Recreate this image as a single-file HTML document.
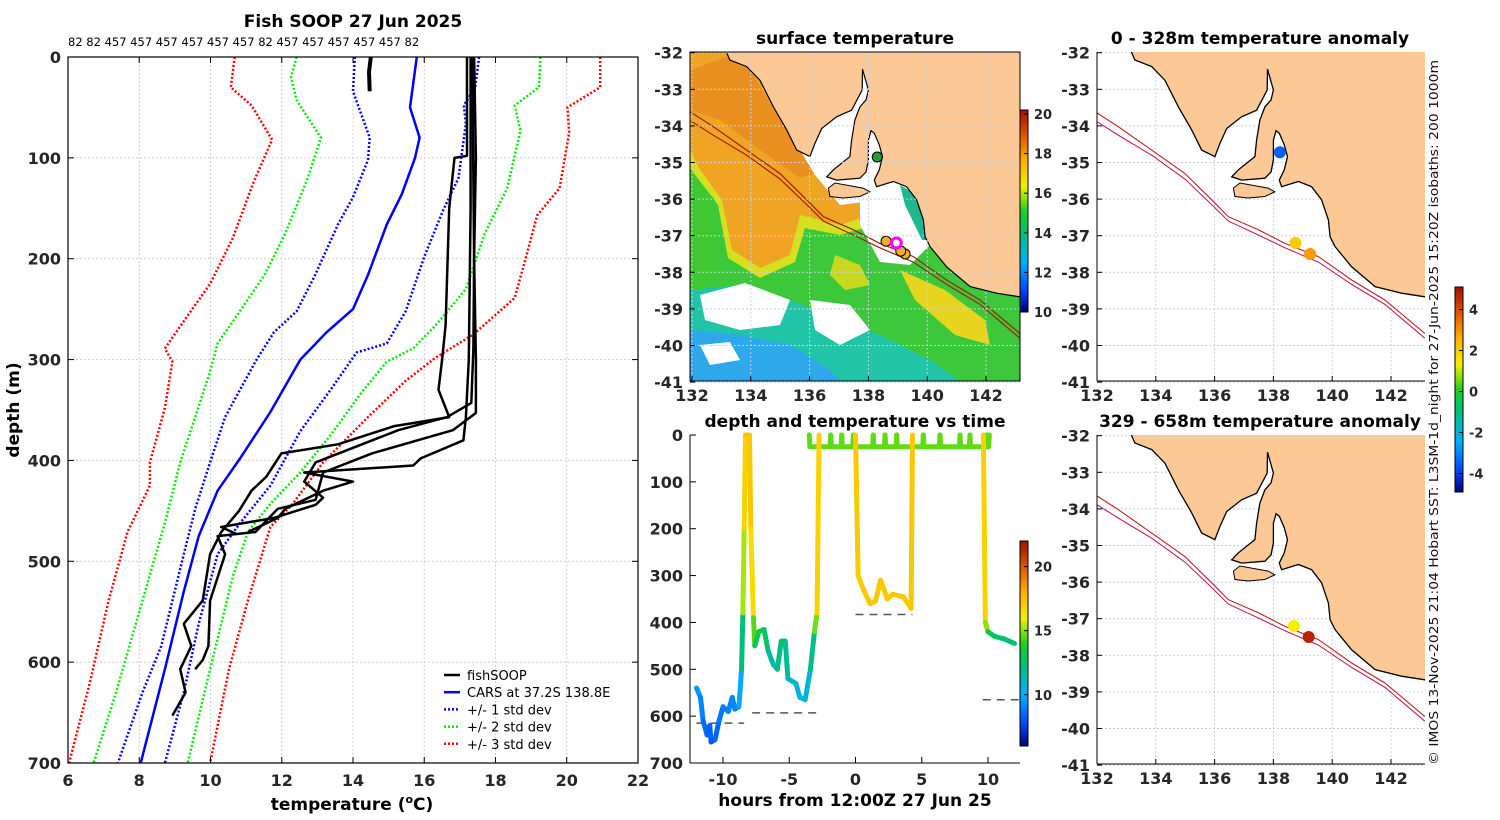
<!DOCTYPE html>
<html><head><meta charset="utf-8"><title>Fish SOOP 27 Jun 2025</title>
<style>
html,body{margin:0;padding:0;background:#fff;}
svg{display:block;font-family:"DejaVu Sans","Liberation Sans",sans-serif;}
.tk{font-weight:bold;font-size:16px;fill:#262626;}
.ttl{font-weight:bold;font-size:17px;fill:#000;}
</style></head>
<body>
<svg id="fig" width="1500" height="820" viewBox="0 0 1500 820" xmlns="http://www.w3.org/2000/svg">
<defs>
<clipPath id="cm1"><rect x="690" y="52" width="330" height="329"/></clipPath>
<clipPath id="cm2"><rect x="1097" y="52" width="328" height="329"/></clipPath>
<clipPath id="cm3"><rect x="1097" y="435" width="328" height="328"/></clipPath>
<linearGradient id="jet" x1="0" y1="1" x2="0" y2="0">
<stop offset="0" stop-color="#000080"/><stop offset="0.12" stop-color="#0050ff"/><stop offset="0.25" stop-color="#00b0ff"/><stop offset="0.4" stop-color="#00c070"/><stop offset="0.5" stop-color="#20d020"/><stop offset="0.62" stop-color="#f0f000"/><stop offset="0.75" stop-color="#ffb000"/><stop offset="0.88" stop-color="#e05000"/><stop offset="1" stop-color="#a01000"/>
</linearGradient>
</defs>
<g id="g-main"></g>
<g id="g-time"></g>
<g id="g-map1"></g>
<g id="g-map2"></g>
<g id="g-map3"></g>
<text transform="translate(1438,765) rotate(-90)" font-size="12.5" fill="#111" textLength="705" lengthAdjust="spacingAndGlyphs">© IMOS 13-Nov-2025 21:04 Hobart SST: L3SM-1d_night for 27-Jun-2025 15:20Z isobaths: 200  1000m</text>
</svg>
<script>
// ---------- data: profile chart ----------
const meanD = [0,50,80,100,136,166,216,250,273,300,352,398,430,475,530,607,700];
const meanT = [15.79,15.6,15.87,15.74,15.37,14.95,14.42,14.0,13.26,12.52,11.68,10.83,10.2,9.67,9.25,8.72,8.04];
const sd1LoD = [0,34,80,102,139,166,216,252,273,302,357,402,448,493,584,630,700];
const sd1LoT = [14.05,14.0,14.47,14.42,14.0,13.58,12.94,12.42,11.78,11.26,10.41,9.99,9.57,9.25,8.62,8.09,7.4];
const sd1HiD = [0,30,48,66,120,152,198,252,284,293,330,371,425,462,493,562,630,700];
const sd1HiT = [17.54,17.43,17.11,17.17,16.96,16.53,16.0,15.48,14.95,14.1,13.37,12.52,11.68,10.83,10.2,9.67,9.25,8.72];
const sd2LoD = [0,20,43,80,120,175,216,257,284,312,357,402,462,539,630,700];
const sd2LoT = [12.42,12.26,12.42,13.1,12.73,12.1,11.52,10.73,10.2,9.99,9.57,9.15,8.72,8.09,7.35,6.72];
const sd2HiD = [0,30,48,73,130,175,230,266,289,302,334,375,412,443,471,516,607,700];
const sd2HiT = [19.26,19.22,18.54,18.7,18.33,17.7,17.17,16.32,15.69,14.95,14.21,13.37,12.52,11.68,11.05,10.62,9.99,9.36];
const sd3LoD = [0,30,48,82,125,180,225,262,289,302,348,402,425,471,539,621,700];
const sd3LoT = [10.68,10.57,11.15,11.73,11.2,10.62,9.99,9.25,8.72,8.93,8.72,8.3,8.3,7.67,7.14,6.61,6.03];
const sd3HiD = [0,30,50,75,130,157,198,239,275,298,321,357,402,443,466,539,607,700];
const sd3HiT = [20.94,20.94,20.02,20.07,19.8,19.17,18.86,18.54,17.38,16.32,15.48,14.42,13.16,12.31,11.68,11.05,10.52,9.99];
const profA_d = [0,98,100,150,266,300,330,357,366,384,393,416,430,450,471,493,539,562,584,607,630,653];
const profA_t = [17.2,17.2,16.85,16.7,16.6,16.5,16.4,16.7,15.16,13.58,11.99,11.57,11.15,10.8,10.3,9.99,9.78,9.25,9.46,9.15,9.3,8.93];
const profB_d = [0,100,200,300,353,370,393,412,439,448,471,475,493,539,584,598,607];
const profB_t = [17.4,17.45,17.4,17.45,17.45,16.8,14.53,13.16,12.95,11.89,11.26,10.2,10.41,9.99,9.94,9.78,9.57];
const profC_d = [0,150,300,357,380,398,405,412,421,430,448,457,471];
const profC_t = [17.3,17.3,17.25,17.17,17.1,15.9,15.69,12.63,14.0,13.16,12.1,11.89,11.05];
const profD_d = [0,200,289,343,357,370,402,421,437,444,457,466,473];
const profD_t = [17.35,17.4,17.38,17.32,16.64,15.27,12.95,12.63,13.16,12.95,11.78,10.3,10.73];
const profE_d = [0,15,34];
const profE_t = [14.5,14.45,14.47];
const tempTicks = [6,8,10,12,14,16,18,20,22];
const depthTicks = [0,100,200,300,400,500,600,700];
const countLabels = ["82","82","457","457","457","457","457","457","82","457","457","457","457","457","82"];
// ---------- data: depth-time chart ----------
const diveHrs = [-12.0,-11.7,-11.5,-11.2,-11.0,-10.9,-10.6,-10.3,-10.0,-9.6,-9.3,-9.1,-8.8,-8.6,-8.5,-8.4,-8.3,-8.0,-7.9,-7.7,-7.6,-7.3,-6.9,-6.6,-6.2,-5.9,-5.6,-5.3,-5.1,-4.5,-4.2,-3.8,-3.4,-3.1,-2.9,-2.75];
const diveDep = [540,560,610,640,620,655,650,610,580,590,560,585,580,500,380,200,0,0,200,390,450,420,415,460,490,500,440,440,520,530,560,565,500,420,380,0];
const diveTmp = [9.5,9.3,8.8,8.3,8.6,8.0,8.1,8.6,9.0,8.9,9.2,9.0,9.2,10.5,14,16.5,17.3,17.3,17.2,16.0,13,13.2,13.3,12.0,11.3,11.2,12.8,12.8,10.9,10.8,10.3,10.2,11.1,13,16.5,17.3];
const dive2Hrs = [0,0.2,0.6,1.1,1.5,1.9,2.4,2.8,3.6,4.2,4.3];
const dive2Dep = [0,300,330,360,355,310,350,340,345,370,0];
const dive2Tmp = [17.3,17.0,17.1,17.2,17.2,17.2,17.2,17.2,17.2,17.2,17.3];
const dive3Hrs = [9.65,9.8,10.0,10.5,11.2,12.0];
const dive3Dep = [0,400,420,430,435,445];
const dive3Tmp = [17.3,16.5,13.5,12.8,12.5,12.3];
const towSpikes = [-3.49,-1.87,-1.04,-0.16,1.34,2.23,3.11,5.12,6.38,7.89,8.64,9.9];
const towDepth = 25;
const towTemp = 14.6;
const bottomSeg = [[-12,-8.4,615],[-7.8,-2.8,593],[0,4.3,383],[9.6,12.4,565],[-3.4,9.9,28]];
const hourTicks = [-10,-5,0,5,10];
// ---------- data: maps ----------
const coast = [[133.1,-31],[133.18,-32.0],[133.29,-32.2],[133.86,-32.38],[134.31,-32.75],[134.77,-33.48],[135.22,-34.11],[135.56,-34.66],[136.01,-34.84],[136.18,-34.48],[136.41,-34.07],[136.92,-33.75],[137.43,-33.57],[137.79,-33.02],[137.8,-32.45],[138.0,-33.02],[137.92,-33.29],[137.71,-33.48],[137.54,-33.84],[137.43,-34.39],[137.37,-34.84],[136.81,-35.2],[136.58,-35.39],[136.92,-35.48],[137.71,-35.43],[137.92,-35.26],[138.0,-34.93],[138.0,-34.39],[138.09,-34.13],[138.2,-34.2],[138.37,-34.52],[138.48,-34.84],[138.37,-35.2],[138.2,-35.48],[138.28,-35.66],[138.85,-35.52],[139.3,-35.66],[139.64,-36.02],[139.87,-36.57],[139.93,-37.03],[140.1,-37.3],[140.66,-37.85],[141.46,-38.39],[142.36,-38.57],[143.15,-38.67],[143.6,-38.7],[143.6,-31]];
const kangIsland = [[136.64,-35.7],[136.86,-35.56],[137.82,-35.7],[138.05,-35.8],[137.71,-35.93],[137.14,-35.97],[136.69,-35.93]];
const iso200 = [[131.93,-33.61],[132.72,-34.02],[133.86,-34.66],[134.99,-35.3],[135.9,-36.02],[136.47,-36.48],[137.49,-36.84],[138.39,-37.21],[139.53,-37.57],[140.66,-38.21],[141.8,-38.76],[143.15,-39.67]];
const iso1000 = [[131.93,-33.85],[132.72,-34.25],[133.86,-34.8],[134.99,-35.45],[135.9,-36.15],[136.47,-36.6],[137.49,-36.98],[138.39,-37.33],[139.53,-37.72],[140.66,-38.33],[141.8,-38.88],[143.15,-39.8]];
const lonTicks = [132,134,136,138,140,142];
const latTicks = [-32,-33,-34,-35,-36,-37,-38,-39,-40,-41];
const anomUpperLon = [138.22,138.75,139.25];
const anomUpperLat = [-34.72,-37.2,-37.5];
const anomUpperVal = [-3.6,1.9,2.8];
const anomLowerLon = [138.7,139.2];
const anomLowerLat = [-37.2,-37.5];
const anomLowerVal = [1.2,4.6];
const sstCbarTicks = [10,12,14,16,18,20];
const timeCbarTicks = [10,15,20];
const anomCbarTicks = [4,2,0,-2,-4];

const NS='http://www.w3.org/2000/svg';
function mk(tag, attrs, parent){const e=document.createElementNS(NS,tag);for(const k in attrs)e.setAttribute(k,attrs[k]);if(parent)parent.appendChild(e);return e;}
function txt(s, attrs, parent){const e=mk('text',attrs,parent);e.textContent=s;return e;}
function cmap(f){
  const st=[[0,[0,0,128]],[0.12,[0,80,255]],[0.25,[0,176,255]],[0.4,[0,192,112]],[0.5,[32,208,32]],[0.62,[240,240,0]],[0.75,[255,176,0]],[0.88,[224,80,0]],[1,[160,16,0]]];
  f=Math.max(0,Math.min(1,f));
  for(let i=1;i<st.length;i++){if(f<=st[i][0]){const a=st[i-1],b=st[i];const u=(f-a[0])/(b[0]-a[0]);const c=a[1].map((v,j)=>Math.round(v+(b[1][j]-v)*u));return 'rgb('+c.join(',')+')';}}
  return 'rgb(160,16,0)';
}

// ================= PROFILE CHART =================
const gm=document.getElementById('g-main');
const mx=t=>68+(t-6)*570/16, my=d=>57+d*706/700;
tempTicks.forEach(t=>{const l=mk('line',{x1:mx(t),x2:mx(t),y1:57,y2:763,stroke:'#c8d0e8','stroke-width':1,'stroke-dasharray':'2,2'},gm);

});
depthTicks.forEach(d=>{const l=mk('line',{x1:68,x2:638,y1:my(d),y2:my(d),stroke:'#d8ccb8','stroke-width':1,'stroke-dasharray':'2,2'},gm);

});
function pathFrom(xs,ys){return xs.map((x,i)=>(i?'L':'M')+x.toFixed(1)+','+ys[i].toFixed(1)).join('');}
const sdLines=[[sd3LoT,sd3LoD,'#ff0000','std-dev-3-lower'],[sd3HiT,sd3HiD,'#ff0000','std-dev-3-upper'],[sd2LoT,sd2LoD,'#00ee00','std-dev-2-lower'],[sd2HiT,sd2HiD,'#00ee00','std-dev-2-upper'],[sd1LoT,sd1LoD,'#0000ff','std-dev-1-lower'],[sd1HiT,sd1HiD,'#0000ff','std-dev-1-upper']];
sdLines.forEach(s=>{
  const p=mk('path',{d:pathFrom(s[0].map(mx),s[1].map(my)),fill:'none',stroke:s[2],'stroke-width':2.5,'stroke-dasharray':'2,2'},gm);
  
  
});
const cars=mk('path',{d:pathFrom(meanT.map(mx),meanD.map(my)),fill:'none',stroke:'#0000ff','stroke-width':2.5},gm);


[[profA_t,profA_d],[profB_t,profB_d],[profC_t,profC_d],[profD_t,profD_d],[profE_t,profE_d]].forEach((p,i)=>{
  const e=mk('path',{d:pathFrom(p[0].map(mx),p[1].map(my)),fill:'none',stroke:'#000','stroke-width':i==4?4:2.5,'stroke-linejoin':'round'},gm);
  
  
});
const box=mk('rect',{x:68,y:57,width:570,height:706,fill:'none',stroke:'#000','stroke-width':1.2},gm);


tempTicks.forEach(t=>{mk('line',{x1:mx(t),x2:mx(t),y1:763,y2:757,stroke:'#000'},gm);mk('line',{x1:mx(t),x2:mx(t),y1:57,y2:63,stroke:'#000'},gm);
const e=txt(String(t),{x:mx(t),y:786,'text-anchor':'middle',class:'tk'},gm);

});
depthTicks.forEach(d=>{mk('line',{x1:68,x2:74,y1:my(d),y2:my(d),stroke:'#000'},gm);mk('line',{x1:632,x2:638,y1:my(d),y2:my(d),stroke:'#000'},gm);
const e=txt(String(d),{x:61,y:my(d)+6,'text-anchor':'end',class:'tk'},gm);

});
const cnt=txt(countLabels.join(' '),{x:68,y:46,'font-size':11.5,fill:'#000'},gm);


const t1=txt('Fish SOOP 27 Jun 2025',{x:353,y:27,'text-anchor':'middle',class:'ttl'},gm);


const yl=txt('depth (m)',{transform:'translate(19,410) rotate(-90)','text-anchor':'middle',class:'ttl'},gm);


const xl=mk('text',{x:352,y:810,'text-anchor':'middle',class:'ttl'},gm);
xl.innerHTML='temperature (<tspan dy="-7" font-size="11">o</tspan><tspan dy="7">C)</tspan>';


const legItems=[['fishSOOP','#000',''],['CARS at 37.2S 138.8E','#0000ff',''],['+/- 1 std dev','#0000ff','2,2'],['+/- 2 std dev','#00ee00','2,2'],['+/- 3 std dev','#ff0000','2,2']];
legItems.forEach((it,i)=>{const y=675+i*17.2;
  const g=mk('g',{},gm);
  
  
  const ln=mk('line',{x1:444,x2:460,y1:y,y2:y,stroke:it[1],'stroke-width':2.5},g); if(it[2])ln.setAttribute('stroke-dasharray',it[2]);
  txt(it[0],{x:467,y:y+5,'font-size':13,fill:'#000'},g);
});

// ================= DEPTH-TIME CHART =================
const gt=document.getElementById('g-time');
const hx=h=>855.5+h*13.25, dy=d=>435+d*328/700;
function drawTrack(hs,ds,ts,name){
  for(let i=1;i<hs.length;i++){
    const s=mk('line',{x1:hx(hs[i-1]),y1:dy(ds[i-1]),x2:hx(hs[i]),y2:dy(ds[i]),stroke:cmap(((ts[i-1]+ts[i])/2-6)/16),'stroke-width':5,'stroke-linecap':'round'},gt);
    
    
  }
}
bottomSeg.forEach(b=>{const l=mk('line',{x1:hx(b[0]),x2:hx(b[1]),y1:dy(b[2]),y2:dy(b[2]),stroke:'#555','stroke-width':1.5,'stroke-dasharray':'8,6'},gt);

});
const th=[],td=[],tt=[];
th.push(-3.49);td.push(0);tt.push(towTemp);
for(let i=0;i<towSpikes.length;i++){const a=towSpikes[i];th.push(a,a+0.05);td.push(0,towDepth);tt.push(towTemp,towTemp);
 const b=i+1<towSpikes.length?towSpikes[i+1]:a+0.2;th.push(b-0.05,b);td.push(towDepth,0);tt.push(towTemp,towTemp);}
drawTrack(th,td,tt,'surface-tow-segment');
drawTrack(diveHrs,diveDep,diveTmp,'dive-track-segment');
drawTrack(dive2Hrs,dive2Dep,dive2Tmp,'dive-track-segment');
drawTrack(dive3Hrs,dive3Dep,dive3Tmp,'dive-track-segment');
mk('line',{x1:690,x2:690,y1:435,y2:763,stroke:'#000'},gt);
mk('line',{x1:690,x2:1020,y1:763,y2:763,stroke:'#000'},gt);
hourTicks.forEach(h=>{mk('line',{x1:hx(h),x2:hx(h),y1:763,y2:757,stroke:'#000'},gt);
const e=txt(String(h),{x:hx(h),y:785,'text-anchor':'middle',class:'tk'},gt);

});
depthTicks.forEach(d=>{mk('line',{x1:690,x2:696,y1:dy(d),y2:dy(d),stroke:'#000'},gt);
const e=txt(String(d),{x:683,y:dy(d)+6,'text-anchor':'end',class:'tk'},gt);

});
const t2=txt('depth and temperature vs time',{x:855,y:427,'text-anchor':'middle',class:'ttl'},gt);


const xl2=txt('hours from 12:00Z 27 Jun 25',{x:855,y:806,'text-anchor':'middle',class:'ttl'},gt);


function cbar(g,x,y0,y1,vmin,vmax,ticks,name){
  const r=mk('rect',{x:x,y:y0,width:8,height:y1-y0,fill:'url(#jet)',stroke:'#000','stroke-width':1},g);
  
  
  ticks.forEach(v=>{const y=y1-(v-vmin)/(vmax-vmin)*(y1-y0);mk('line',{x1:x+8,x2:x+4,y1:y,y2:y,stroke:'#000'},g);
  const e=txt(String(v),{x:x+14,y:y+5,'font-size':13,'font-weight':'bold',fill:'#262626'},g);
  
  });
}
cbar(gt,1020,541,746,6,22,timeCbarTicks,'time-colorbar');

// ================= MAPS =================
function mapAxes(x0,y0){
  const lx=lon=>x0+2+(lon-132)*29.4, ly=lat=>y0+0.7+(-32-lat)*36.6;
  return {lx,ly};
}
function poly(g,pts,P,attrs,name){
  const e=mk('path',Object.assign({d:pts.map((p,i)=>(i?'L':'M')+P.lx(p[0]).toFixed(1)+','+P.ly(p[1]).toFixed(1)).join('')+(attrs.fill!=='none'?'Z':'')},attrs),g);
  
  
  return e;
}
function gridAndTicks(g,P,x0,y0,w,h){
  lonTicks.forEach(l=>{mk('line',{x1:P.lx(l),x2:P.lx(l),y1:y0,y2:y0+h,stroke:'#c8d0e8','stroke-dasharray':'2,2'},g);mk('line',{x1:P.lx(l),x2:P.lx(l),y1:y0+h,y2:y0+h-5,stroke:'#000'},g);
   const e=txt(String(l),{x:P.lx(l),y:y0+h+20,'text-anchor':'middle',class:'tk'},g);
   
   });
  latTicks.forEach(l=>{mk('line',{x1:x0,x2:x0+w,y1:P.ly(l),y2:P.ly(l),stroke:'#c8d0e8','stroke-dasharray':'2,2'},g);mk('line',{x1:x0,x2:x0+5,y1:P.ly(l),y2:P.ly(l),stroke:'#000'},g);
   const e=txt(String(l),{x:x0-7,y:P.ly(l)+6,'text-anchor':'end',class:'tk'},g);
   
   });
}
// --- SST map
const g1=document.getElementById('g-map1');
const P1=mapAxes(690,52);
const f1=mk('g',{'clip-path':'url(#cm1)'},g1);


mk('rect',{x:690,y:52,width:330,height:329,fill:'#3cc83a'},f1);
mk('path',{d:'M690,52 L780,52 L810,130 L860,180 L885,222 L840,235 L805,228 L795,262 L760,278 L728,258 L718,205 L690,168Z',fill:'#d6e020'},f1);
mk('path',{d:'M690,52 L770,52 L800,130 L850,180 L870,215 L840,225 L800,215 L790,255 L760,268 L732,250 L722,200 L700,170 L690,150Z',fill:'#f0a424'},f1);
mk('path',{d:'M690,70 L740,52 L780,120 L830,168 L800,178 L760,150 L720,120 L690,110Z',fill:'#ea9020'},f1);
mk('path',{d:'M690,170 L715,200 L712,300 L690,300Z',fill:'#40c830'},f1);
mk('path',{d:'M835,255 L860,265 L870,285 L845,290 L830,275Z',fill:'#c8d820'},f1);
mk('path',{d:'M690,290 L740,285 L790,300 L840,320 L880,335 L930,360 L960,381 L690,381Z',fill:'#22c4a8'},f1);
mk('path',{d:'M690,330 L740,335 L790,345 L830,370 L840,381 L690,381Z',fill:'#2ea8ea'},f1);
mk('path',{d:'M700,295 L745,283 L790,300 L780,325 L740,330 L705,320Z',fill:'#fff'},f1);
mk('path',{d:'M810,300 L850,305 L870,330 L840,345 L815,330Z',fill:'#fff'},f1);
mk('path',{d:'M700,345 L730,342 L740,360 L710,365Z',fill:'#fff'},f1);
mk('path',{d:'M800,150 L840,110 L865,65 L895,120 L900,190 L880,200 L840,205 L815,175Z',fill:'#fff'},f1);
mk('path',{d:'M860,185 L900,180 L920,200 L930,245 L910,265 L880,262 L860,225Z',fill:'#fff'},f1);
mk('path',{d:'M900,185 L925,200 L932,240 L922,240 L905,205Z',fill:'#20b890'},f1);
mk('path',{d:'M900,270 L945,290 L985,320 L990,345 L955,335 L915,300Z',fill:'#e6d41e'},f1);
poly(f1,coast,P1,{fill:'#fbc896',stroke:'#000','stroke-width':1.2},'land');
poly(f1,kangIsland,P1,{fill:'#fbc896',stroke:'#000','stroke-width':1},'kangaroo-island');
poly(f1,iso200,P1,{fill:'none',stroke:'#a02010','stroke-width':1.2},'isobath-200m');
poly(f1,iso1000,P1,{fill:'none',stroke:'#a02010','stroke-width':1.2},'isobath-1000m');
[[138.6,-37.15],[139.25,-37.5],[139.1,-37.42]].forEach(p=>{const c=mk('circle',{cx:P1.lx(p[0]),cy:P1.ly(p[1]),r:5,fill:'#f0b020',stroke:'#000','stroke-width':1},f1);

});
const mg=mk('circle',{cx:P1.lx(138.95),cy:P1.ly(-37.2),r:5,fill:'none',stroke:'#ff00ff','stroke-width':3},f1);


const gm1=mk('circle',{cx:P1.lx(138.3),cy:P1.ly(-34.85),r:5,fill:'#2a9a3a',stroke:'#000','stroke-width':1},f1);


gridAndTicks(g1,P1,690,52,330,329);
mk('rect',{x:690,y:52,width:330,height:329,fill:'none',stroke:'#000','stroke-width':1},g1);
cbar(g1,1020,110,312,10,20.2,sstCbarTicks,'sst-colorbar');
const t3=txt('surface temperature',{x:855,y:44,'text-anchor':'middle',class:'ttl'},g1);


// --- anomaly maps
function anomMap(id,y0,clip,lons,lats,vals,title){
  const g=document.getElementById(id);
  const P=mapAxes(1095,y0);
  gridAndTicks(g,P,1097,y0,328,329);
  const f=mk('g',{'clip-path':clip},g);
  poly(f,coast,P,{fill:'#fbc896',stroke:'#000','stroke-width':1.3},'land');
  poly(f,kangIsland,P,{fill:'#fbc896',stroke:'#000','stroke-width':1},'kangaroo-island');
  poly(f,iso200,P,{fill:'none',stroke:'#c02020','stroke-width':1.1},'isobath-200m');
  poly(f,iso1000,P,{fill:'none',stroke:'#c02060','stroke-width':1.1},'isobath-1000m');
  lons.forEach((lo,i)=>{const e=mk('ellipse',{cx:P.lx(lo),cy:P.ly(lats[i]),rx:6,ry:6,fill:cmap((vals[i]+5)/10)},f);
    
    });
  mk('line',{x1:1097,x2:1097,y1:y0,y2:y0+329,stroke:'#000'},g);
  mk('line',{x1:1097,x2:1425,y1:y0+329,y2:y0+329,stroke:'#000'},g);
  const t=txt(title,{x:1260,y:y0-8,'text-anchor':'middle',class:'ttl'},g);
  
  
  return g;
}
anomMap('g-map2',52,'url(#cm2)',anomUpperLon,anomUpperLat,anomUpperVal,'0 - 328m temperature anomaly');
anomMap('g-map3',435,'url(#cm3)',anomLowerLon,anomLowerLat,anomLowerVal,'329 - 658m temperature anomaly');
cbar(document.getElementById('g-map2'),1455,287,492,-4.9,5.1,anomCbarTicks,'anomaly-colorbar');
</script>
</body></html>
